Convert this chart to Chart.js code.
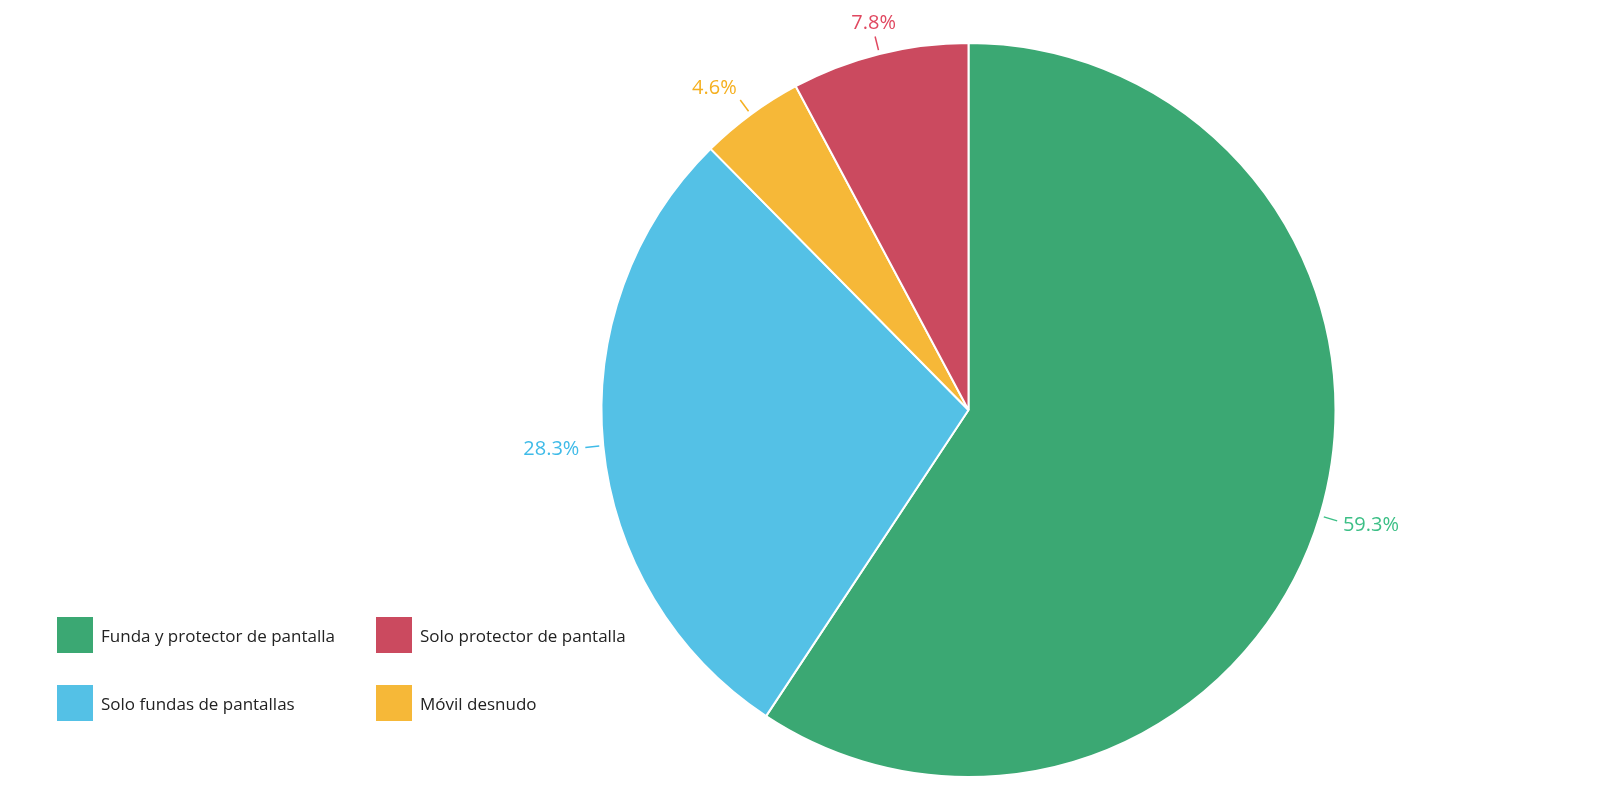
<!DOCTYPE html>
<html>
<head>
<meta charset="utf-8">
<script src="https://cdn.jsdelivr.net/npm/chart.js@4"></script>
<style>
  body { margin: 0; background: #fff; }
  #wrap { position: relative; width: 1600px; height: 800px; }
  #legend { position: absolute; left: 57px; top: 617px; font-family: "Open Sans", sans-serif; font-size: 17px; color: #222; }
  .item { position: absolute; display: flex; align-items: center; white-space: nowrap; }
  .box { width: 36px; height: 36px; margin-right: 8px; }
</style>
</head>
<body>
<div id="wrap">
  <canvas id="myChart" width="1600" height="800"></canvas>
  <div id="legend"></div>
</div>
<script>
const categories = ['Funda y protector de pantalla', 'Solo fundas de pantallas', 'Móvil desnudo', 'Solo protector de pantalla'];
const values = [59.3, 28.3, 4.6, 7.8];
const colors = ['#3ba873', '#54c1e6', '#f6b838', '#cb4a5f'];
const labelColors = ['#3cbf86', '#3fbbe8', '#f5b020', '#e04860'];

const labelPlugin = {
    id: 'outLabels',
    afterDatasetsDraw(chart) {
        const ctx = chart.ctx;
        const meta = chart.getDatasetMeta(0);
        meta.data.forEach((arc, i) => {
            const mid = (arc.startAngle + arc.endAngle) / 2;
            const cx = arc.x, cy = arc.y, r = arc.outerRadius;
            const cos = Math.cos(mid), sin = Math.sin(mid);
            ctx.save();
            ctx.strokeStyle = labelColors[i];
            ctx.lineWidth = 1.5;
            ctx.beginPath();
            ctx.moveTo(cx + cos * (r + 4), cy + sin * (r + 4));
            ctx.lineTo(cx + cos * (r + 18), cy + sin * (r + 18));
            ctx.stroke();
            ctx.fillStyle = labelColors[i];
            ctx.font = '20px "Open Sans", sans-serif';
            ctx.textBaseline = 'middle';
            const tx = cx + cos * (r + 24), ty = cy + sin * (r + 32);
            ctx.textAlign = cos > 0.3 ? 'left' : (cos < -0.3 ? 'right' : 'center');
            ctx.fillText(values[i].toFixed(1) + '%', tx, ty);
            ctx.restore();
        });
    }
};

new Chart(document.getElementById('myChart'), {
    type: 'pie',
    data: {
        labels: categories,
        datasets: [{
            data: values,
            backgroundColor: colors,
            borderColor: '#ffffff',
            borderWidth: 2
        }]
    },
    options: {
        responsive: false,
        animation: false,
        layout: { padding: { left: 600, right: 263, top: 42, bottom: 22 } },
        plugins: { legend: { display: false }, tooltip: { enabled: false } }
    },
    plugins: [labelPlugin]
});

// legend order: row 1 green, red; row 2 blue, yellow
const legendPos = [[0, 0, 0], [3, 319, 0], [1, 0, 68], [2, 319, 68]];
const legend = document.getElementById('legend');
legendPos.forEach(([i, x, y]) => {
    const d = document.createElement('div');
    d.className = 'item';
    d.style.left = x + 'px';
    d.style.top = y + 'px';
    d.innerHTML = '<div class="box" style="background:' + colors[i] + '"></div>' + categories[i];
    legend.appendChild(d);
});
</script>
</body>
</html>
